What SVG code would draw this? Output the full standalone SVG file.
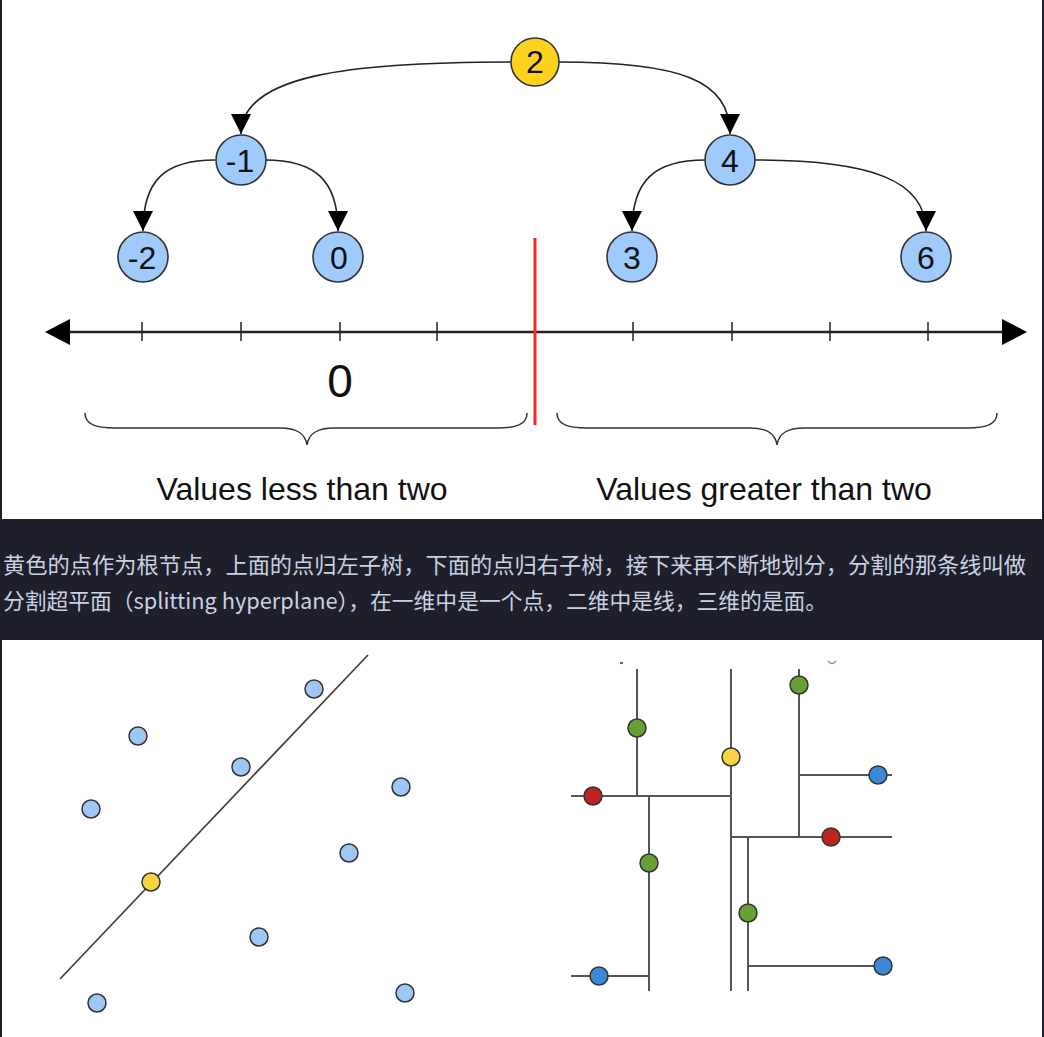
<svg xmlns="http://www.w3.org/2000/svg" width="1044" height="1037" viewBox="0 0 1044 1037">
<style>
.nd{stroke:#333;stroke-width:1.6}
.blue{fill:#9ecafc}
.yel{fill:#fcd21e}
.lbl{font-family:"Liberation Sans",Arial,sans-serif;font-size:32px;fill:#111;text-anchor:middle}
.edge{fill:none;stroke:#222;stroke-width:1.6}
.cap{font-family:"Liberation Sans",Arial,sans-serif;font-size:32px;fill:#111;text-anchor:middle}
.zh{font-family:"Noto Sans CJK SC","Noto Sans",sans-serif;font-size:22px;fill:#c9d1e2}
.pt{stroke:#333;stroke-width:1.5}
.sp{fill:#9fc7f6}
.gl{stroke:#555;stroke-width:2;fill:none}
.g{fill:#64a032}
.r{fill:#c0231f}
.b{fill:#3a89d6}
.y{fill:#f8d444}
</style>
<defs>
<marker id="ah" viewBox="0 0 20 20" refX="20" refY="10" markerWidth="20" markerHeight="20" markerUnits="userSpaceOnUse" orient="auto">
<path d="M0,0 L20,10 L0,20 z" fill="#000"/>
</marker>
</defs>
<rect x="0" y="0" width="1044" height="1037" fill="#1e1f2b"/>
<rect x="2" y="0" width="1040" height="519" fill="#fff"/>
<rect x="2" y="640" width="1040" height="397" fill="#fff"/>

<g id="connectors">
<path class="edge" d="M511,62 C350,62 241,75 241,134" marker-end="url(#ah)"/>
<path class="edge" d="M559,62 C680,62 730,80 730,134" marker-end="url(#ah)"/>
<path class="edge" d="M215,160 C165,160 143,180 143,231" marker-end="url(#ah)"/>
<path class="edge" d="M265,160 C315,160 338,180 338,231" marker-end="url(#ah)"/>
<path class="edge" d="M705,160 C655,160 632,180 632,231" marker-end="url(#ah)"/>
<path class="edge" d="M755,160 C870,160 926,180 926,231" marker-end="url(#ah)"/>
</g>

<g id="node-2"><circle class="nd yel" cx="535" cy="62" r="24"/><text class="lbl" x="535" y="73">2</text></g>
<g id="node-m1"><circle class="nd blue" cx="241" cy="160" r="25"/><text class="lbl" x="240" y="172">-1</text></g>
<g id="node-4"><circle class="nd blue" cx="730" cy="160" r="25"/><text class="lbl" x="730" y="172">4</text></g>
<g id="node-m2"><circle class="nd blue" cx="143" cy="257" r="25"/><text class="lbl" x="142" y="269">-2</text></g>
<g id="node-0"><circle class="nd blue" cx="338" cy="257" r="25"/><text class="lbl" x="339" y="269">0</text></g>
<g id="node-3"><circle class="nd blue" cx="632" cy="257" r="25"/><text class="lbl" x="632" y="269">3</text></g>
<g id="node-6"><circle class="nd blue" cx="926" cy="257" r="25"/><text class="lbl" x="926" y="269">6</text></g>

<g id="number-line">
<line x1="60" y1="332" x2="1012" y2="332" stroke="#222" stroke-width="2.5"/>
<path d="M45,332 L70,319 L70,345 z" fill="#000"/>
<path d="M1027,332 L1002,319 L1002,345 z" fill="#000"/>
<g stroke="#222" stroke-width="1.5">
<line x1="142" y1="322" x2="142" y2="341"/>
<line x1="241" y1="322" x2="241" y2="341"/>
<line x1="340" y1="322" x2="340" y2="341"/>
<line x1="437" y1="322" x2="437" y2="341"/>
<line x1="633" y1="322" x2="633" y2="341"/>
<line x1="732" y1="322" x2="732" y2="341"/>
<line x1="830" y1="322" x2="830" y2="341"/>
<line x1="928" y1="322" x2="928" y2="341"/>
</g>
<line x1="535" y1="238" x2="535" y2="425" stroke="#ff2020" stroke-width="3"/>
<text x="340" y="397" font-family="Liberation Sans, Arial, sans-serif" font-size="46" fill="#111" text-anchor="middle">0</text>
<path d="M85,413 C85,424 95,428 115,428 L280,428 C295,428 305,432 307,445 C309,432 319,428 334,428 L497,428 C517,428 527,424 527,413" fill="none" stroke="#333" stroke-width="1.5"/>
<path d="M557,413 C557,424 567,428 587,428 L750,428 C765,428 775,432 777,445 C779,432 789,428 804,428 L967,428 C987,428 997,424 997,413" fill="none" stroke="#333" stroke-width="1.5"/>
<text class="cap" x="302" y="500">Values less than two</text>
<text class="cap" x="764" y="500">Values greater than two</text>
</g>

<g id="caption">
<text class="zh" x="3" y="573" textLength="1023" lengthAdjust="spacingAndGlyphs">黄色的点作为根节点，上面的点归左子树，下面的点归右子树，接下来再不断地划分，分割的那条线叫做</text>
<text class="zh" x="3" y="609" textLength="824" lengthAdjust="spacingAndGlyphs">分割超平面（splitting hyperplane），在一维中是一个点，二维中是线，三维的是面。</text>
</g>

<g id="scatter">
<line x1="60" y1="979" x2="368" y2="655" stroke="#444" stroke-width="1.8"/>
<circle class="pt sp" cx="314" cy="689" r="9"/>
<circle class="pt sp" cx="138" cy="736" r="9"/>
<circle class="pt sp" cx="241" cy="767" r="9"/>
<circle class="pt sp" cx="401" cy="787" r="9"/>
<circle class="pt sp" cx="91" cy="809" r="9"/>
<circle class="pt sp" cx="349" cy="853" r="9"/>
<circle class="pt y" cx="151" cy="882" r="9"/>
<circle class="pt sp" cx="259" cy="937" r="9"/>
<circle class="pt sp" cx="97" cy="1003" r="9"/>
<circle class="pt sp" cx="405" cy="993" r="9"/>
</g>

<g id="kd-partition">
<path d="M620,663 L623,663" stroke="#3a69b0" stroke-width="2"/>
<path d="M828,661 Q832,666 836,661" stroke="#999" stroke-width="1.5" fill="none"/>
<line class="gl" x1="637" y1="669" x2="637" y2="796"/>
<line class="gl" x1="571" y1="796" x2="731" y2="796"/>
<line class="gl" x1="731" y1="669" x2="731" y2="991"/>
<line class="gl" x1="649" y1="796" x2="649" y2="991"/>
<line class="gl" x1="571" y1="976" x2="649" y2="976"/>
<line class="gl" x1="799" y1="669" x2="799" y2="837"/>
<line class="gl" x1="799" y1="775" x2="892" y2="775"/>
<line class="gl" x1="732" y1="837" x2="892" y2="837"/>
<line class="gl" x1="748" y1="837" x2="748" y2="991"/>
<line class="gl" x1="748" y1="966" x2="882" y2="966"/>
<circle class="pt g" cx="637" cy="728" r="9"/>
<circle class="pt g" cx="799" cy="685" r="9"/>
<circle class="pt y" cx="731" cy="757" r="9"/>
<circle class="pt b" cx="878" cy="775" r="9"/>
<circle class="pt r" cx="593" cy="796" r="9"/>
<circle class="pt r" cx="831" cy="837" r="9"/>
<circle class="pt g" cx="649" cy="863" r="9"/>
<circle class="pt g" cx="748" cy="913" r="9"/>
<circle class="pt b" cx="599" cy="976" r="9"/>
<circle class="pt b" cx="883" cy="966" r="9"/>
</g>
</svg>
